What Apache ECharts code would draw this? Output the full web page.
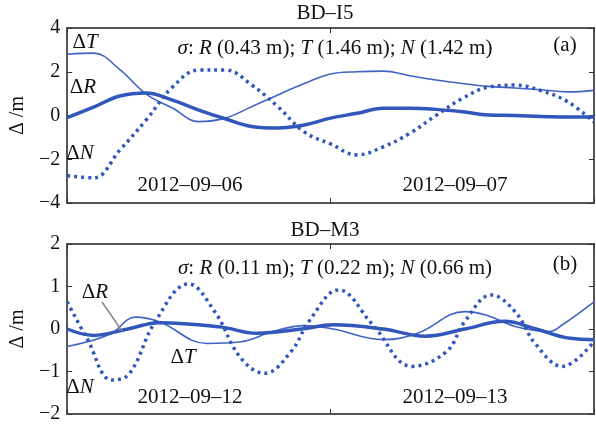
<!DOCTYPE html>
<html>
<head>
<meta charset="utf-8">
<script src="https://cdn.jsdelivr.net/npm/echarts@6/dist/echarts.min.js"></script>
<style>
  html, body { margin: 0; padding: 0; background: #fff; }
  #chart { width: 596px; height: 424px; }
</style>
</head>
<body>
<div id="chart"></div>
<script>
// time in days from start of panel window
// panel (a) BD-I5
const aTime = [0, 0.1, 0.2, 0.3, 0.4, 0.5, 0.6, 0.7, 0.8, 0.9, 1.0, 1.1, 1.2, 1.3, 1.4, 1.5, 1.6, 1.7, 1.8, 1.9, 2.0]
const aDT = [2.8, 2.85, 2.1, 0.98, 0.34, -0.28, -0.12, 0.4, 0.94, 1.46, 1.9, 2.0, 2.03, 1.82, 1.62, 1.46, 1.33, 1.26, 1.18, 1.08, 1.15]
const aDR = [-0.1, 0.38, 0.89, 1.03, 0.7, 0.25, -0.15, -0.5, -0.57, -0.43, -0.12, 0.1, 0.33, 0.33, 0.28, 0.17, 0.02, 0.0, -0.05, -0.07, -0.07]
const aDN = [-2.75, -2.85, -1.58, -0.2, 1.3, 2.08, 2.08, 1.4, 0.4, -0.75, -1.3, -1.8, -1.43, -0.82, 0.0, 0.78, 1.3, 1.39, 1.13, 0.63, -0.3]

// panel (b) BD-M3
const bTimeN = [0, 0.075, 0.17, 0.235, 0.335, 0.46, 0.56, 0.66, 0.75, 0.85, 0.92, 1.03, 1.16, 1.31, 1.44, 1.51, 1.61, 1.7, 1.78, 1.88, 2.0]
const bDN = [0.64, -0.22, -1.2, -1.06, 0.18, 1.06, 0.41, -0.69, -1.04, -0.53, 0.2, 0.92, 0.1, -0.88, -0.53, 0.18, 0.8, 0.41, -0.37, -0.88, -0.29]
const bTimeT = [0, 0.16, 0.26, 0.35, 0.53, 0.66, 0.78, 0.9, 1.01, 1.2, 1.33, 1.51, 1.59, 1.7, 1.83, 1.88, 2.0]
const bDT = [-0.41, -0.13, 0.28, 0.17, -0.34, -0.3, -0.06, 0.08, 0.0, -0.25, -0.1, 0.41, 0.33, 0.06, -0.06, 0.1, 0.64]
const bTimeR = [0, 0.1, 0.23, 0.35, 0.58, 0.72, 0.89, 1.01, 1.2, 1.36, 1.51, 1.66, 1.78, 1.91, 2.0]
const bDR = [0.0, -0.15, 0.0, 0.15, 0.05, -0.1, 0.0, 0.1, 0.0, -0.17, 0.0, 0.18, 0.0, -0.22, -0.25]

const aTicks = [-4, -2, 0, 2, 4]
const bTicks = [-2, -1, 0, 1, 2]

const FONT = 'Liberation Serif'
const blue = '#3157bb'
const thinBlue = '#4164c4'
const frame = '#555'

function pairs (xs, ys) {
  return xs.map((x, i) => [x, ys[i]])
}

function xAxes (grid) {
  const base = {
    type: 'value',
    gridIndex: grid,
    min: 0,
    max: 2,
    interval: 1,
    axisLabel: { show: false },
    splitLine: { show: false },
    axisLine: { onZero: false, lineStyle: { color: frame, width: 2 } },
    axisTick: { inside: true, length: 5, lineStyle: { color: '#333' } }
  }
  return [
    Object.assign({}, base, { position: 'bottom' }),
    Object.assign({}, base, { position: 'top' })
  ]
}

function yAxes (grid, ticks, name) {
  const base = {
    type: 'value',
    gridIndex: grid,
    min: ticks[0],
    max: ticks[ticks.length - 1],
    interval: ticks[1] - ticks[0],
    splitLine: { show: false },
    axisLine: { onZero: false, lineStyle: { color: frame, width: 2 } },
    axisTick: { inside: true, length: 5, lineStyle: { color: '#333' } }
  }
  return [
    Object.assign({}, base, {
      position: 'left',
      name: name,
      nameLocation: 'middle',
      nameGap: 36,
      nameTextStyle: { fontFamily: FONT, fontSize: 20, color: '#111' },
      axisLabel: {
        fontFamily: FONT,
        fontSize: 20,
        color: '#111',
        margin: 7,
        formatter: v => String(v).replace('-', '\u2212')
      }
    }),
    Object.assign({}, base, { position: 'right', axisLabel: { show: false } })
  ]
}

const FS = 21
const txt = { fontFamily: FONT, fontSize: FS, fill: '#111' }
const rich = {
  i: { fontFamily: FONT, fontSize: FS, fontStyle: 'italic', color: '#111' },
  n: { fontFamily: FONT, fontSize: FS, color: '#111' }
}

function label (x, y, text, richText) {
  return {
    type: 'text',
    x: x,
    y: y,
    style: Object.assign({}, txt, {
      text: text,
      align: 'center',
      verticalAlign: 'middle',
      rich: richText ? rich : undefined
    }),
    z: 100
  }
}

const sigmaA = '{i|σ}{n|: }{i|R}{n| (0.43 m); }{i|T}{n| (1.46 m); }{i|N}{n| (1.42 m)}'
const sigmaB = '{i|σ}{n|: }{i|R}{n| (0.11 m); }{i|T}{n| (0.22 m); }{i|N}{n| (0.66 m)}'

const option = {
  animation: false,
  backgroundColor: '#fff',
  grid: [
    { left: 57, right: 2, top: 28, height: 175 },
    { left: 57, right: 2, top: 244, height: 171 }
  ],
  xAxis: xAxes(0).concat(xAxes(1)),
  yAxis: yAxes(0, aTicks, 'Δ /m').concat(yAxes(1, bTicks, 'Δ /m')),
  series: [
    { name: 'ΔT', type: 'line', xAxisIndex: 0, yAxisIndex: 0, data: pairs(aTime, aDT), smooth: 0.4, symbol: 'none', lineStyle: { color: thinBlue, width: 1.6 } },
    { name: 'ΔR', type: 'line', xAxisIndex: 0, yAxisIndex: 0, data: pairs(aTime, aDR), smooth: 0.4, symbol: 'none', lineStyle: { color: blue, width: 3.5 } },
    { name: 'ΔN', type: 'line', xAxisIndex: 0, yAxisIndex: 0, data: pairs(aTime, aDN), smooth: 0.4, symbol: 'none', lineStyle: { color: blue, width: 3.5, type: [3, 4], cap: 'butt' } },
    { name: 'ΔT', type: 'line', xAxisIndex: 2, yAxisIndex: 2, data: pairs(bTimeT, bDT), smooth: 0.4, symbol: 'none', lineStyle: { color: thinBlue, width: 1.6 } },
    { name: 'ΔR', type: 'line', xAxisIndex: 2, yAxisIndex: 2, data: pairs(bTimeR, bDR), smooth: 0.4, symbol: 'none', lineStyle: { color: blue, width: 3.5 } },
    { name: 'ΔN', type: 'line', xAxisIndex: 2, yAxisIndex: 2, data: pairs(bTimeN, bDN), smooth: 0.4, symbol: 'none', lineStyle: { color: blue, width: 3.5, type: [3, 4], cap: 'butt' } }
  ],
  graphic: [
    label(325, 13, 'BD\u2013I5'),
    label(335, 48, sigmaA, true),
    label(565, 45, '(a)'),
    label(85, 42, '{n|Δ}{i|T}', true),
    label(83, 87, '{n|Δ}{i|R}', true),
    label(80, 153, '{n|Δ}{i|N}', true),
    label(190, 185, '2012\u201309\u201306'),
    label(455, 185, '2012\u201309\u201307'),
    label(325, 230, 'BD\u2013M3'),
    label(335, 268, sigmaB, true),
    label(565, 264, '(b)'),
    label(95, 292, '{n|Δ}{i|R}', true),
    label(183, 357, '{n|Δ}{i|T}', true),
    label(80, 387, '{n|Δ}{i|N}', true),
    label(190, 397, '2012\u201309\u201312'),
    label(455, 397, '2012\u201309\u201313'),
    {
      type: 'line',
      shape: { x1: 102, y1: 302, x2: 122, y2: 331 },
      style: { stroke: '#888', lineWidth: 1.5 },
      z: 100
    }
  ]
}

const myChart = echarts.init(document.getElementById('chart'))
myChart.setOption(option)
window.addEventListener('resize', function () {
  myChart.resize()
})
</script>
</body>
</html>
